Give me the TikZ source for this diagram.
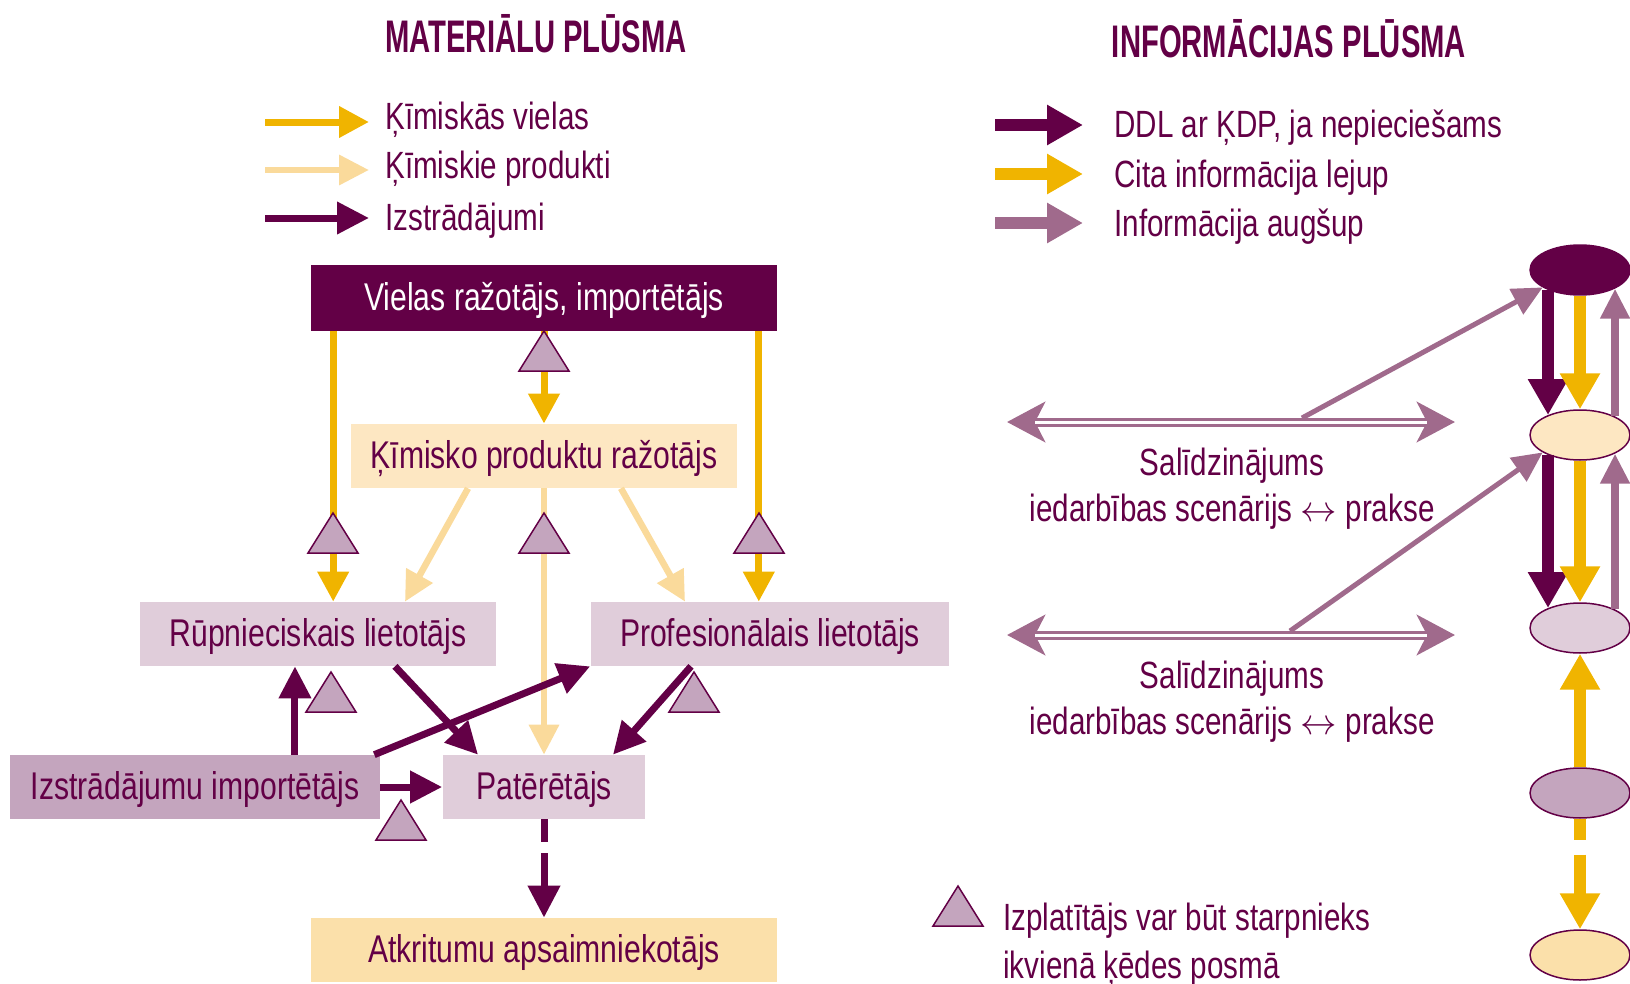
\documentclass[tikz,border=0pt]{standalone}
\usepackage{fontspec}
\setmainfont{Liberation Sans}[FakeStretch=0.78]
\newfontfamily\headfont{Liberation Sans}[FakeStretch=0.64]
\usetikzlibrary{arrows.meta,shapes.geometric}
\definecolor{cplum}{RGB}{99,0,70}
\definecolor{cgold}{RGB}{240,180,0}
\definecolor{cpale}{RGB}{250,218,155}
\definecolor{cmauve}{RGB}{160,106,140}
\definecolor{clilac}{RGB}{224,205,218}
\definecolor{cdlilac}{RGB}{196,165,190}
\definecolor{cpeach}{RGB}{253,231,194}
\definecolor{csand}{RGB}{251,224,170}

\tikzset{
  box/.style={rectangle, inner sep=0pt, text=cplum, text height=0.5cm, text depth=0cm,
    font=\fontsize{22}{26}\selectfont},
  lbl/.style={inner sep=0pt, text=cplum, font=\fontsize{21.6}{25}\selectfont},
  headline/.style={inner sep=0pt, text=cplum, font=\headfont\bfseries\fontsize{26}{30}\selectfont},
  role/.style={ellipse, draw=cplum, line width=0.03cm, minimum width=2cm, minimum height=1cm, inner sep=0pt},
  subst/.style={cgold, line width=0.14cm, -{Triangle[length=0.6cm,width=0.6cm]}},
  mixt/.style={cpale, line width=0.13cm, -{Triangle[length=0.6cm,width=0.58cm]}},
  artic/.style={cplum, line width=0.14cm, -{Triangle[length=0.64cm,width=0.62cm]}},
  sdsdown/.style={cplum, line width=0.24cm, -{Triangle[length=0.72cm,width=0.76cm]}},
  infodown/.style={cgold, line width=0.24cm, -{Triangle[length=0.72cm,width=0.76cm]}},
  infoup/.style={cmauve, line width=0.16cm, -{Triangle[length=0.6cm,width=0.56cm]}},
  feedback/.style={cmauve, line width=0.1cm, -{Triangle[length=0.6cm,width=0.56cm]}},
  compare/.style={cmauve, line width=0.18cm,
    {Stealth[length=0.76cm,width=0.8cm,inset=0.2cm]}-{Stealth[length=0.76cm,width=0.8cm,inset=0.2cm]}},
  distri/.pic={\draw[fill=cdlilac, draw=cplum, line width=0.03cm] (-25,0) -- (25,0) -- (0,-40) -- cycle;}
}

\begin{document}
\begin{tikzpicture}[x=0.02cm,y=-0.02cm]
\useasboundingbox (0,0) rectangle (1630,984);

% headings
\node[headline, anchor=base] (mathead) at (536,52) {MATERIĀLU PLŪSMA};
\node[headline, anchor=base] (infhead) at (1289,57) {INFORMĀCIJAS PLŪSMA};

% material legend
\coordinate (lsa) at (265,122); \coordinate (lsb) at (369,122);
\coordinate (lma) at (265,170); \coordinate (lmb) at (369,170);
\coordinate (laa) at (265,218); \coordinate (lab) at (369,218);
\draw[subst] (lsa) -- (lsb);
\draw[mixt] (lma) -- (lmb);
\draw[artic] (laa) -- (lab);
\node[lbl, anchor=base west] (lgsub) at (385,129) {Ķīmiskās vielas};
\node[lbl, anchor=base west] (lgmix) at (385,178) {Ķīmiskie produkti};
\node[lbl, anchor=base west] (lgart) at (385,230) {Izstrādājumi};

% information legend
\coordinate (isa) at (995,125); \coordinate (isb) at (1083,125);
\coordinate (ioa) at (995,174); \coordinate (iob) at (1083,174);
\coordinate (iua) at (995,223); \coordinate (iub) at (1083,223);
\draw[sdsdown] (isa) -- (isb);
\draw[infodown] (ioa) -- (iob);
\draw[sdsdown, cmauve] (iua) -- (iub);
\node[lbl, anchor=base west] (lgsds) at (1114,137) {DDL ar ĶDP, ja nepieciešams};
\node[lbl, anchor=base west] (lgdown) at (1114,187) {Cita informācija lejup};
\node[lbl, anchor=base west] (lgup) at (1114,236) {Informācija augšup};

% supply chain
\node[box, fill=cplum, text=white, minimum width=9.34cm, minimum height=1.32cm] (vielas) at (544,298) {Vielas ražotājs, importētājs};
\node[box, fill=cpeach, minimum width=7.72cm, minimum height=1.28cm] (kprod) at (544,456) {Ķīmisko produktu ražotājs};
\node[box, fill=clilac, minimum width=7.14cm, minimum height=1.28cm] (rup) at (318,634) {Rūpnieciskais lietotājs};
\node[box, fill=clilac, minimum width=7.18cm, minimum height=1.28cm] (prof) at (770,634) {Profesionālais lietotājs};
\node[box, fill=cdlilac, minimum width=7.4cm, minimum height=1.28cm] (imp) at (195,787) {Izstrādājumu importētājs};
\node[box, fill=clilac, minimum width=4.06cm, minimum height=1.28cm] (pat) at (544,787) {Patērētājs};
\node[box, fill=csand, minimum width=9.34cm, minimum height=1.28cm] (atk) at (544,950) {Atkritumu apsaimniekotājs};

% substances
\draw[subst] (vielas.south) -- (kprod.north);
\coordinate (vl) at ([xshift=0.46cm]vielas.south west);
\coordinate (vr) at ([xshift=-0.38cm]vielas.south east);
\draw[subst] (vl) -- (vl |- rup.north);
\draw[subst] (vr) -- (vr |- prof.north);

% mixtures
\draw[mixt] ([xshift=-1.52cm]kprod.south) -- ([xshift=1.74cm]rup.north);
\draw[mixt] ([xshift=1.54cm]kprod.south) -- ([xshift=-1.7cm]prof.north);
\draw[mixt] (kprod.south) -- (pat.north);

% articles
\coordinate (iu) at ([xshift=2cm]imp.north);
\draw[artic] (iu) -- (iu |- rup.south);
\draw[artic] ([xshift=-0.12cm]imp.north east) -- (prof.south west);
\draw[artic] (imp.east) -- (pat.west);
\draw[artic] ([xshift=1.54cm]rup.south) -- ([xshift=-1.32cm]pat.north);
\draw[artic] ([xshift=-1.58cm]prof.south) -- ([xshift=1.38cm]pat.north);
\draw[artic, dash pattern=on 0.46cm off 0.22cm on 0.8cm] (pat.south) -- (atk.north);

% distributors
\pic at (544,371) {distri};
\pic at (333,553) {distri};
\pic at (544,553) {distri};
\pic at (759,553) {distri};
\pic at (331,712) {distri};
\pic at (694,712) {distri};
\pic at (401,840) {distri};

% comparisons
\coordinate (cla) at (1007,422); \coordinate (clb) at (1455,422);
\coordinate (cma) at (1007,635); \coordinate (cmb) at (1455,635);
\draw[compare] (cla) -- (clb);
\draw[white, line width=0.06cm, shorten <=0.56cm, shorten >=0.56cm] (cla) -- (clb);
\draw[compare] (cma) -- (cmb);
\draw[white, line width=0.06cm, shorten <=0.56cm, shorten >=0.56cm] (cma) -- (cmb);
\node[lbl, anchor=base] (cmp1a) at (1232,475) {Salīdzinājums};
\node[lbl, anchor=base] (cmp1b) at (1232,521) {iedarbības scenārijs $\leftrightarrow$ prakse};
\node[lbl, anchor=base] (cmp2a) at (1232,688) {Salīdzinājums};
\node[lbl, anchor=base] (cmp2b) at (1232,734) {iedarbības scenārijs $\leftrightarrow$ prakse};

% information column
\node[role, fill=cplum] (e1) at (1580,270) {};
\node[role, fill=cpeach] (e2) at (1580,435) {};
\node[role, fill=clilac] (e3) at (1580,628) {};
\node[role, fill=cdlilac] (e4) at (1580,793) {};
\node[role, fill=csand] (e5) at (1580,955) {};
\draw[sdsdown] (e1.212) -- (e2.148);
\draw[infodown] (e1.south) -- (e2.north);
\draw[infoup] (e2.28) -- (e1.-28);
\draw[sdsdown] (e2.212) -- (e3.148);
\draw[infodown] (e2.south) -- (e3.north);
\draw[infoup] (e3.28) -- (e2.-28);
\draw[infodown] (e4.north) -- (e3.south);
\draw[infodown, dash pattern=on 0.42cm off 0.3cm on 0.8cm] (e4.south) -- (e5.north);

\coordinate (fb1) at (1302,418);
\coordinate (fb2) at (1290,631);
\draw[feedback] (fb1) -- (e1.205);
\draw[feedback] (fb2) -- (e2.205);

% note
\pic at (958,926) {distri};
\node[lbl, anchor=base west] (dist1) at (1003,930) {Izplatītājs var būt starpnieks};
\node[lbl, anchor=base west] (dist2) at (1003,978) {ikvienā ķēdes posmā};
\end{tikzpicture}
\end{document}
